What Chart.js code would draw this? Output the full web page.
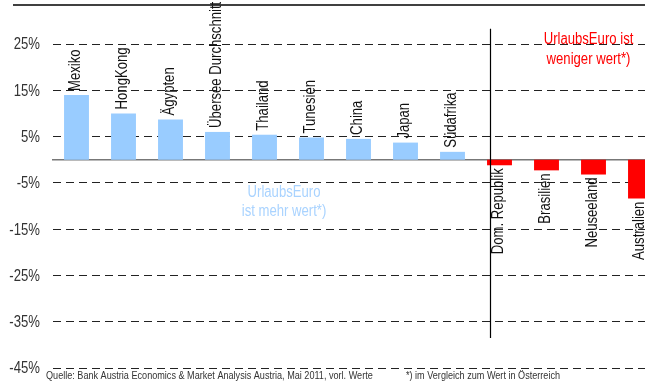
<!DOCTYPE html>
<html lang="de">
<head>
<meta charset="utf-8">
<title>UrlaubsEuro</title>
<script src="https://cdn.jsdelivr.net/npm/chart.js@4/dist/chart.umd.min.js"></script>
<style>
  html, body { margin: 0; padding: 0; background: #fff; overflow: hidden; }
  #wrap { position: relative; width: 680px; height: 381px; }
</style>
</head>
<body>
<div id="wrap"><canvas id="c"></canvas></div>
<script>
// Kaufkraft des UrlaubsEuro im Vergleich zu Österreich (in %)
const categories = ["Mexiko", "HongKong", "Ägypten", "Übersee Durchschnitt", "Thailand", "Tunesien",
  "China", "Japan", "Südafrika", "Dom. Republik", "Brasilien", "Neuseeland", "Australien"];
const values = [14.0, 10.0, 8.7, 6.0, 5.4, 4.8, 4.5, 3.7, 1.7, -1.2, -2.3, -3.2, -8.4];
const yMin = -45, yMax = 25, yStep = 10;
const noteMore = ["UrlaubsEuro", "ist mehr wert*)"];
const noteLess = ["UrlaubsEuro ist", "weniger wert*)"];
const sourceText = "Quelle: Bank Austria Economics & Market Analysis Austria, Mai 2011, vorl. Werte";
const footnoteText = "*) im Vergleich zum Wert in Österreich";

const FONT = "'Liberation Sans', Arial, sans-serif";
const NARROW = 0.82; // schmale Schrift durch horizontale Stauchung
const BLUE = "#99ccff", RED = "#ff0000", TEXT = "#333333";

// Text schmal gestaucht zeichnen (optional gedreht)
function narrowText(ctx, text, x, y, align, angle) {
  ctx.save();
  ctx.translate(x, y);
  if (angle) ctx.rotate(angle);
  ctx.scale(NARROW, 1);
  ctx.textAlign = align;
  ctx.fillText(text, 0, 0);
  ctx.restore();
}

const decorations = {
  id: "decorations",
  beforeDatasetsDraw(chart) {
    const { ctx, chartArea, scales: { y } } = chart;
    ctx.save();
    // Nulllinie
    const y0 = y.getPixelForValue(0);
    ctx.strokeStyle = "#777";
    ctx.lineWidth = 1.5;
    ctx.beginPath();
    ctx.moveTo(chartArea.left - 1, y0);
    ctx.lineTo(chartArea.right, y0);
    ctx.stroke();
    ctx.restore();
  },
  afterDatasetsDraw(chart) {
    const { ctx, chartArea, scales: { x, y } } = chart;
    const meta = chart.getDatasetMeta(0);
    ctx.save();

    // Linie am oberen Rand
    ctx.strokeStyle = "#000";
    ctx.lineWidth = 1.3;
    ctx.beginPath();
    ctx.moveTo(13, 5);
    ctx.lineTo(chart.width, 5);
    ctx.stroke();

    // Trennlinie zwischen mehr/weniger wert
    const firstNeg = values.findIndex(v => v < 0);
    const xd = x.getPixelForValue(firstNeg) - 9;
    ctx.lineWidth = 1.2;
    ctx.beginPath();
    ctx.moveTo(xd, y.getPixelForValue(28.3));
    ctx.lineTo(xd, y.getPixelForValue(-38.5));
    ctx.stroke();

    // Achsenbeschriftung (Prozent)
    ctx.font = "16px " + FONT;
    ctx.fillStyle = TEXT;
    ctx.textBaseline = "middle";
    y.ticks.forEach(t => {
      narrowText(ctx, t.value + "%", chartArea.left - 13, y.getPixelForValue(t.value) + 1, "right");
    });

    // Ländernamen senkrecht an den Balken
    ctx.fillStyle = "#111";
    meta.data.forEach((bar, i) => {
      const pos = values[i] >= 0;
      narrowText(ctx, categories[i], bar.x - 1, pos ? bar.y - 4 : bar.y + 3,
        pos ? "left" : "right", -Math.PI / 2);
    });

    // Hinweistexte
    ctx.fillStyle = RED;
    const xr = x.getPixelForValue(11) - 5;
    narrowText(ctx, noteLess[0], xr, y.getPixelForValue(26), "center");
    narrowText(ctx, noteLess[1], xr, y.getPixelForValue(21.7), "center");
    ctx.fillStyle = "#a9d3ff";
    const xb = (x.getPixelForValue(4) + x.getPixelForValue(5)) / 2 - 4;
    narrowText(ctx, noteMore[0], xb, y.getPixelForValue(-7.1), "center");
    narrowText(ctx, noteMore[1], xb, y.getPixelForValue(-11.2), "center");

    // Quellenangabe
    ctx.font = "11.1px " + FONT;
    ctx.fillStyle = TEXT;
    narrowText(ctx, sourceText, 46, 376, "left");
    narrowText(ctx, footnoteText, 406, 376, "left");
    ctx.restore();
  }
};

new Chart(document.getElementById("c"), {
  type: "bar",
  data: {
    labels: categories,
    datasets: [{
      data: values,
      backgroundColor: values.map(v => v >= 0 ? BLUE : RED),
      borderWidth: 0,
      categoryPercentage: 1,
      barPercentage: 0.53
    }]
  },
  options: {
    responsive: true,
    maintainAspectRatio: false,
    animation: false,
    devicePixelRatio: 1,
    layout: { padding: { top: 44, bottom: 13, left: 0, right: 16 } },
    plugins: { legend: { display: false }, tooltip: { enabled: false } },
    scales: {
      x: { display: false },
      y: {
        min: yMin,
        max: yMax,
        afterFit(scale) { scale.width = 53; },
        ticks: { stepSize: yStep, display: false },
        grid: { color: "#222", lineWidth: 1, drawTicks: false },
        border: { display: false, dash: [8, 5] }
      }
    }
  },
  plugins: [decorations]
});
</script>
</body>
</html>
